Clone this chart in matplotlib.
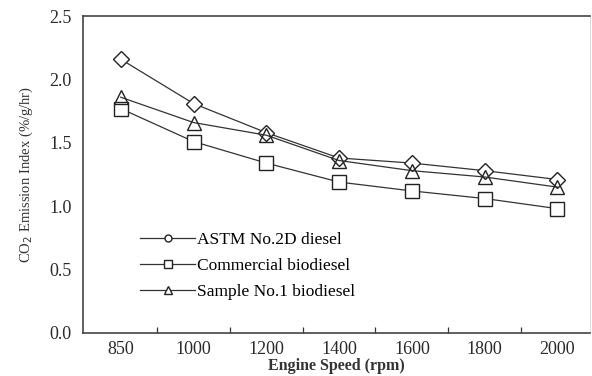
import matplotlib.pyplot as plt
from matplotlib.lines import Line2D
from matplotlib.ticker import FixedLocator

# engine speeds (categorical, equally spaced)
speeds = ["850", "1000", "1200", "1400", "1600", "1800", "2000"]

astm = [2.16, 1.81, 1.58, 1.38, 1.34, 1.28, 1.21]
commercial = [1.77, 1.51, 1.34, 1.19, 1.12, 1.06, 0.98]
sample1 = [1.86, 1.66, 1.56, 1.36, 1.28, 1.23, 1.15]

plt.rcParams["font.family"] = ["Liberation Serif", "DejaVu Serif"]

fig = plt.figure(figsize=(5.92, 3.76), dpi=100)
ax = fig.add_axes([0.14, 0.115, 0.857, 0.842])

x = list(range(len(speeds)))
ax.plot(x, astm, color="#333333", lw=0.9, marker="D", ms=8, mfc="white", mec="#222222", mew=1.0)
ax.plot(x, commercial, color="#333333", lw=0.9, marker="s", ms=10, mfc="white", mec="#222222", mew=1.0)
ax.plot(x, sample1, color="#333333", lw=0.9, marker="^", ms=10, mfc="none", mec="#222222", mew=1.0)

ax.set_xlim(-0.52, 6.45)
ax.set_ylim(0, 2.5)
ax.set_xticks(x)
ax.set_xticklabels(speeds)
ax.xaxis.set_minor_locator(FixedLocator([i + 0.5 for i in range(len(speeds) - 1)]))
ax.tick_params(axis="x", which="major", length=0, pad=6, labelsize=13)
ax.tick_params(axis="x", which="minor", direction="in", length=4, width=0.9, color="#333333")
ax.set_yticks([0.0, 0.5, 1.0, 1.5, 2.0, 2.5])
ax.set_yticklabels(["0.0", "0.5", "1.0", "1.5", "2.0", "2.5"])
ax.tick_params(axis="y", length=0, pad=8, labelsize=13)
for lbl in ax.get_xticklabels() + ax.get_yticklabels():
    lbl.set_color("#2a2a2a")

for side in ["left", "bottom", "top"]:
    ax.spines[side].set_color("#444444")
    ax.spines[side].set_linewidth(1.2)
ax.spines["right"].set_color("#dddddd")
ax.spines["right"].set_linewidth(0.8)

ax.set_xlabel("Engine Speed (rpm)", fontsize=11.5, fontweight="bold", color="#333333", labelpad=0)
ax.set_ylabel("CO$_2$ Emission Index (%/g/hr)", fontsize=10.5, color="#333333", labelpad=10)

handles = [
    Line2D([], [], color="#333333", lw=0.9, marker="o", ms=5, mfc="white", mec="#222222"),
    Line2D([], [], color="#333333", lw=0.9, marker="s", ms=6, mfc="white", mec="#222222"),
    Line2D([], [], color="#333333", lw=0.9, marker="^", ms=6, mfc="white", mec="#222222"),
]
ax.legend(handles, ["ASTM No.2D diesel", "Commercial biodiesel", "Sample No.1 biodiesel"],
          loc="upper left", bbox_to_anchor=(0.095, 0.345), frameon=False, fontsize=12.5,
          handlelength=3.2, handletextpad=0.1, labelspacing=0.55, borderpad=0)

fig.savefig("out.png", dpi=100)
